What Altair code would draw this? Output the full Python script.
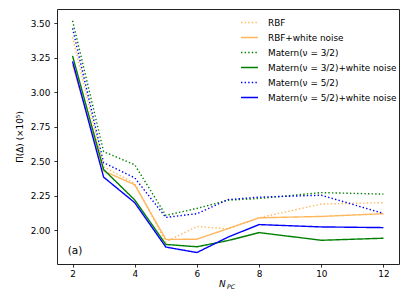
import altair as alt
import pandas as pd

n_pc = [2, 3, 4, 5, 6, 7, 8, 10, 12]

series_names = [
    "RBF",
    "RBF+white noise",
    "Matern(ν = 3/2)",
    "Matern(ν = 3/2)+white noise",
    "Matern(ν = 5/2)",
    "Matern(ν = 5/2)+white noise",
]
rbf = [3.40, 2.46, 2.34, 1.915, 2.027, 2.01, 2.09, 2.19, 2.20]
rbf_wn = [3.20, 2.43, 2.33, 1.933, 1.935, 2.012, 2.09, 2.10, 2.12]
m32 = [3.52, 2.57, 2.475, 2.108, 2.158, 2.218, 2.23, 2.273, 2.262]
m32_wn = [3.265, 2.44, 2.22, 1.897, 1.88, 1.925, 1.983, 1.927, 1.942]
m52 = [3.465, 2.49, 2.38, 2.093, 2.12, 2.222, 2.24, 2.254, 2.122]
m52_wn = [3.225, 2.385, 2.20, 1.878, 1.838, 1.95, 2.041, 2.024, 2.019]
all_values = [rbf, rbf_wn, m32, m32_wn, m52, m52_wn]

colors = ["#FFB65C", "#FFB65C", "#008000", "#008000", "#0000FF", "#0000FF"]
dashes = [[1.4, 2.2], [1, 0], [1.4, 2.2], [1, 0], [1.4, 2.2], [1, 0]]

rows = []
for k, (name, vals) in enumerate(zip(series_names, all_values)):
    for x, v in zip(n_pc, vals):
        rows.append({"series": name, "order": k, "npc": x, "val": v})
df = pd.DataFrame(rows)

FONT = "DejaVu Sans"
FS = 8.9

leg = alt.Legend(orient="none", legendX=183, legendY=4, title=None,
                 symbolType="stroke", symbolSize=289,
                 symbolStrokeWidth=1.4, labelFont=FONT,
                 labelFontSize=FS, labelColor="black",
                 rowPadding=-3.6, padding=0, labelOffset=9)

lines = alt.Chart(df).mark_line(strokeWidth=1.4, clip=True).encode(
    x=alt.X("npc:Q",
            scale=alt.Scale(domain=[1.5, 12.5], nice=False, zero=False),
            axis=alt.Axis(values=[2, 4, 6, 8, 10, 12], title=None, grid=False,
                          labelFontSize=FS, labelFont=FONT, labelColor="black",
                          tickColor="black", tickSize=3.1, tickWidth=0.8,
                          domain=False, labelPadding=2)),
    y=alt.Y("val:Q",
            scale=alt.Scale(domain=[1.755, 3.605], nice=False, zero=False),
            axis=alt.Axis(values=[2.0, 2.25, 2.5, 2.75, 3.0, 3.25, 3.5], format=".2f",
                          title="Π(Δ) (×10⁵)", titleFont=FONT, titleFontSize=FS,
                          titleFontWeight="normal", titleColor="black", titlePadding=6,
                          grid=False, labelFontSize=FS, labelFont=FONT, labelColor="black",
                          tickColor="black", tickSize=3.1, tickWidth=0.8,
                          domain=False, labelPadding=4)),
    color=alt.Color("series:N", scale=alt.Scale(domain=series_names, range=colors),
                    sort=series_names, legend=leg),
    strokeDash=alt.StrokeDash("series:N",
                              scale=alt.Scale(domain=series_names, range=dashes),
                              sort=series_names, legend=leg),
    order=alt.Order("order:Q"),
    detail="series:N",
)

panel = alt.Chart(pd.DataFrame({"t": ["(a)"]})).mark_text(
    align="left", baseline="alphabetic", font=FONT, fontSize=10.5, color="black"
).encode(text="t:N", x=alt.value(10.7), y=alt.value(245))

xt1 = alt.Chart(pd.DataFrame({"t": ["N"]})).mark_text(
    align="left", baseline="alphabetic", font=FONT, fontSize=FS, fontStyle="italic", color="black"
).encode(text="t:N", x=alt.value(162), y=alt.value(278))
xt2 = alt.Chart(pd.DataFrame({"t": ["PC"]})).mark_text(
    align="left", baseline="alphabetic", font=FONT, fontSize=6.2, fontStyle="italic", color="black"
).encode(text="t:N", x=alt.value(170), y=alt.value(279.7))

chart = alt.layer(lines, panel, xt1, xt2).properties(
    width=342, height=255,
    autosize=alt.AutoSizeParams(type="none"),
    padding={"left": 49, "top": 1, "right": 4, "bottom": 40},
).configure(background="white").configure_view(stroke="#222222", strokeWidth=1, strokeOpacity=1)

chart.save("out.html", embed_options={"renderer": "svg", "actions": False})
